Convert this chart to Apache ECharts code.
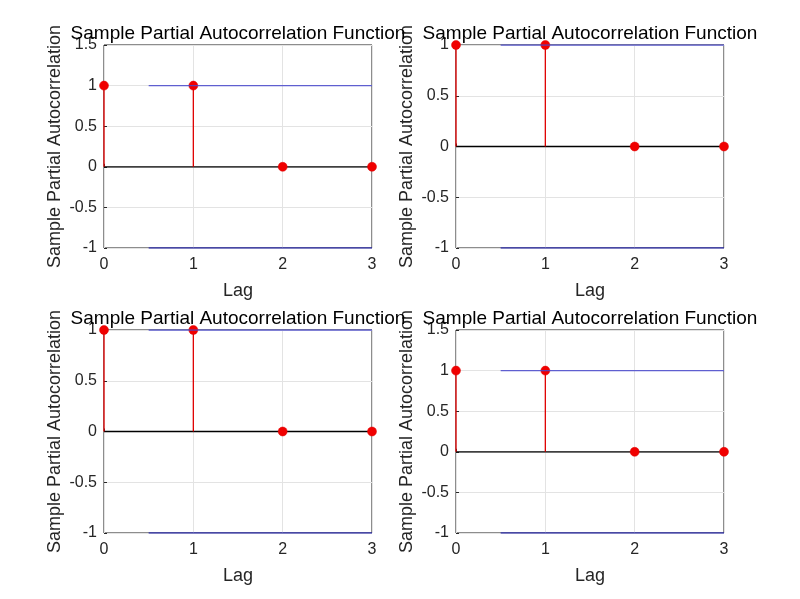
<!DOCTYPE html>
<html><head><meta charset="utf-8">
<script src="https://cdn.jsdelivr.net/npm/echarts@6/dist/echarts.min.js"></script>
<style>html,body{margin:0;padding:0;background:#fff}#c{width:800px;height:599px}</style>
</head><body><div id="c"></div>
<script>
const lags = [0, 1, 2, 3];
const pacf1 = [1, 1, 0, 0];
const pacf2 = [1, 1, 0, 0];
const pacf3 = [1, 1, 0, 0];
const pacf4 = [1, 1, 0, 0];
const upperBound = [1, 1, 1, 1];
const lowerBound = [-1, -1, -1, -1];
const boundStart = 0.5;
const yMax = [1.5, 1, 1, 1.5];
const titleText = 'Sample Partial Autocorrelation Function';
const yName = 'Sample Partial Autocorrelation';
const xName = 'Lag';

const panels = [pacf1, pacf2, pacf3, pacf4];
const font = 'Liberation Sans, Arial, sans-serif';
const gridPos = [
  {left: 104, top: 45}, {left: 456, top: 45},
  {left: 104, top: 330}, {left: 456, top: 330}
];
const W = 268, H = 203;

const option = {animation: false, backgroundColor: '#fff', title: [], grid: [], xAxis: [], yAxis: [], series: []};
panels.forEach((vals, i) => {
  const g = gridPos[i];
  option.grid.push({left: g.left, top: g.top, width: W, height: H, show: true, borderColor: '#1a1a1a', borderWidth: 1, backgroundColor: '#fff', containLabel: false});
  option.title.push({text: titleText, left: g.left + W / 2, top: g.top - 21, textAlign: 'center', padding: 0,
    textStyle: {fontFamily: font, fontSize: 19, fontWeight: 'normal', color: '#000'}});
  option.xAxis.push({type: 'value', gridIndex: i, min: 0, max: 3, interval: 1,
    name: xName, nameLocation: 'middle', nameGap: 34, nameTextStyle: {fontFamily: font, fontSize: 18, color: '#262626'},
    axisLine: {show: false}, axisTick: {show: true, inside: true, length: 3, lineStyle: {color: '#262626'}},
    axisLabel: {fontFamily: font, fontSize: 16, color: '#262626', margin: 9},
    splitLine: {show: true, lineStyle: {color: '#e3e3e3', width: 1}}});
  option.yAxis.push({type: 'value', gridIndex: i, min: -1, max: yMax[i], interval: 0.5,
    name: yName, nameLocation: 'middle', nameGap: 40, nameRotate: 90, nameTextStyle: {fontFamily: font, fontSize: 18, color: '#262626'},
    axisLine: {show: false}, axisTick: {show: true, inside: true, length: 3, lineStyle: {color: '#262626'}},
    axisLabel: {fontFamily: font, fontSize: 16, color: '#262626', margin: 7},
    splitLine: {show: true, lineStyle: {color: '#e3e3e3', width: 1}}});
  // zero line
  option.series.push({type: 'line', xAxisIndex: i, yAxisIndex: i, data: [[lags[0], 0], [lags[lags.length - 1], 0]],
    symbol: 'none', lineStyle: {color: '#000', width: 1.3}, z: 3, silent: true});
  // stems
  option.series.push({type: 'custom', xAxisIndex: i, yAxisIndex: i, z: 5,
    data: lags.map((l, k) => [l, vals[k]]),
    renderItem: function (params, api) {
      const p0 = api.coord([api.value(0), 0]);
      const p1 = api.coord([api.value(0), api.value(1)]);
      return {type: 'line', shape: {x1: p0[0], y1: p0[1], x2: p1[0], y2: p1[1]}, style: {stroke: '#e00000', lineWidth: 1.3}};
    }});
  // markers
  option.series.push({type: 'scatter', xAxisIndex: i, yAxisIndex: i, z: 6,
    data: lags.map((l, k) => [l, vals[k]]), symbol: 'circle', symbolSize: 9,
    itemStyle: {color: '#f00000', borderColor: '#e00000', borderWidth: 0.5, opacity: 1}});
  // bounds
  option.series.push({type: 'line', xAxisIndex: i, yAxisIndex: i, data: [[boundStart, upperBound[0]], [lags[lags.length - 1], upperBound[upperBound.length - 1]]],
    symbol: 'none', lineStyle: {color: '#4848cc', width: 1.3, opacity: 0.85}, z: 7, silent: true});
  option.series.push({type: 'line', xAxisIndex: i, yAxisIndex: i, data: [[boundStart, lowerBound[0]], [lags[lags.length - 1], lowerBound[lowerBound.length - 1]]],
    symbol: 'none', lineStyle: {color: '#3333aa', width: 1.5}, z: 7, silent: true});
});
const chart = echarts.init(document.getElementById('c'));
chart.setOption(option);
</script></body></html>
